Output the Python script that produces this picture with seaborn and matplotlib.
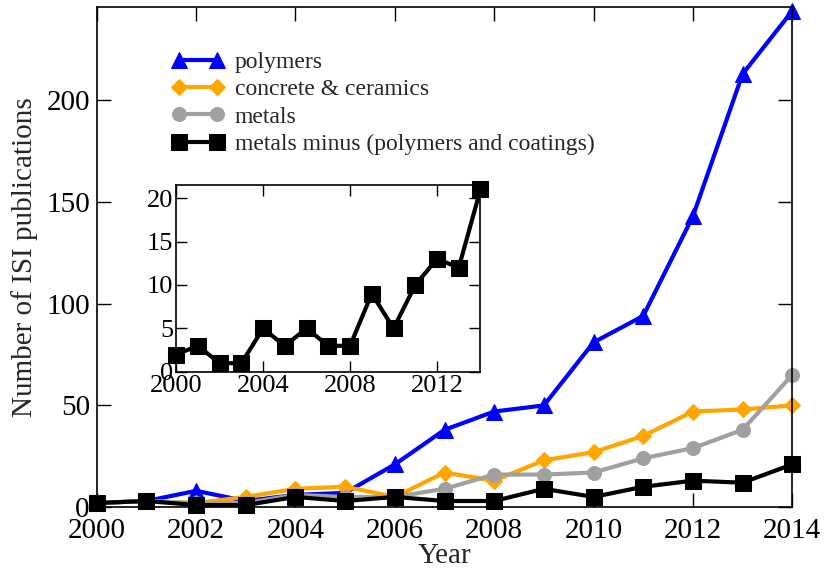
import numpy as np
import pandas as pd
import matplotlib
matplotlib.use("Agg")
import matplotlib.pyplot as plt
import seaborn as sns

years = list(range(2000, 2015))
polymers = [2, 3, 8, 3, 6, 7, 21, 38, 47, 50, 81, 94, 143, 213, 244]
concrete = [2, 3, 2, 5, 9, 10, 5, 17, 13, 23, 27, 35, 47, 48, 50]
metals = [2, 3, 2, 2, 6, 5, 5, 9, 16, 16, 17, 24, 29, 38, 65]
metals_minus = [2, 3, 1, 1, 5, 3, 5, 3, 3, 9, 5, 10, 13, 12, 21]

series = [
    ("polymers", polymers, "#0000ff", "^", 11),
    ("concrete & ceramics", concrete, "#ffa500", "D", 8),
    ("metals", metals, "#a0a0a0", "o", 10),
    ("metals minus (polymers and coatings)", metals_minus, "#000000", "s", 12),
]

sns.set_theme(style="ticks")
plt.rcParams["font.family"] = ["Liberation Serif", "DejaVu Serif"]

fig = plt.figure(figsize=(8.27, 5.73), dpi=100)
ax = fig.add_axes([0.117, 0.115, 0.841, 0.873])

for name, vals, color, marker, ms in series:
    df = pd.DataFrame({"year": years, "count": vals})
    sns.lineplot(data=df, x="year", y="count", ax=ax, color=color, marker=marker,
                 markersize=ms, markeredgecolor=color, linewidth=3, label=name,
                 clip_on=False)

ax.set_xlim(2000, 2014)
ax.set_ylim(0, 246)
ax.set_xticks(range(2000, 2015, 2))
ax.set_yticks([0, 50, 100, 150, 200])
ax.tick_params(axis="both", direction="in", length=10, width=1, labelsize=21,
               top=True, right=True, colors="black", pad=5)
ax.tick_params(axis="x", pad=8)
ax.set_xlabel("Year", fontsize=21, labelpad=-1)
ax.set_ylabel("Number of ISI publications", fontsize=21, labelpad=6)
for s in ax.spines.values():
    s.set_linewidth(1.2)
    s.set_color("black")

leg = ax.legend(loc="upper left", bbox_to_anchor=(0.095, 0.93), frameon=False,
                fontsize=17, numpoints=2, handlelength=2.2, labelspacing=0.25,
                handletextpad=0.45, borderaxespad=0)

ins = fig.add_axes([0.213, 0.351, 0.368, 0.326])
df_in = pd.DataFrame({"year": years, "count": metals_minus})
sns.lineplot(data=df_in, x="year", y="count", ax=ins, color="black", marker="s",
             markersize=12, markeredgecolor="black", linewidth=3, clip_on=False)
ins.set_xlim(2000, 2014)
ins.set_ylim(0, 21.5)
ins.set_xticks([2000, 2004, 2008, 2012])
ins.set_yticks([0, 5, 10, 15, 20])
ins.tick_params(direction="in", length=8, width=1, labelsize=19, top=True, right=True,
                colors="black", pad=2)
ins.set_xlabel("")
ins.set_ylabel("")
for s in ins.spines.values():
    s.set_linewidth(1.2)
    s.set_color("black")

fig.savefig("out.png", dpi=100)
